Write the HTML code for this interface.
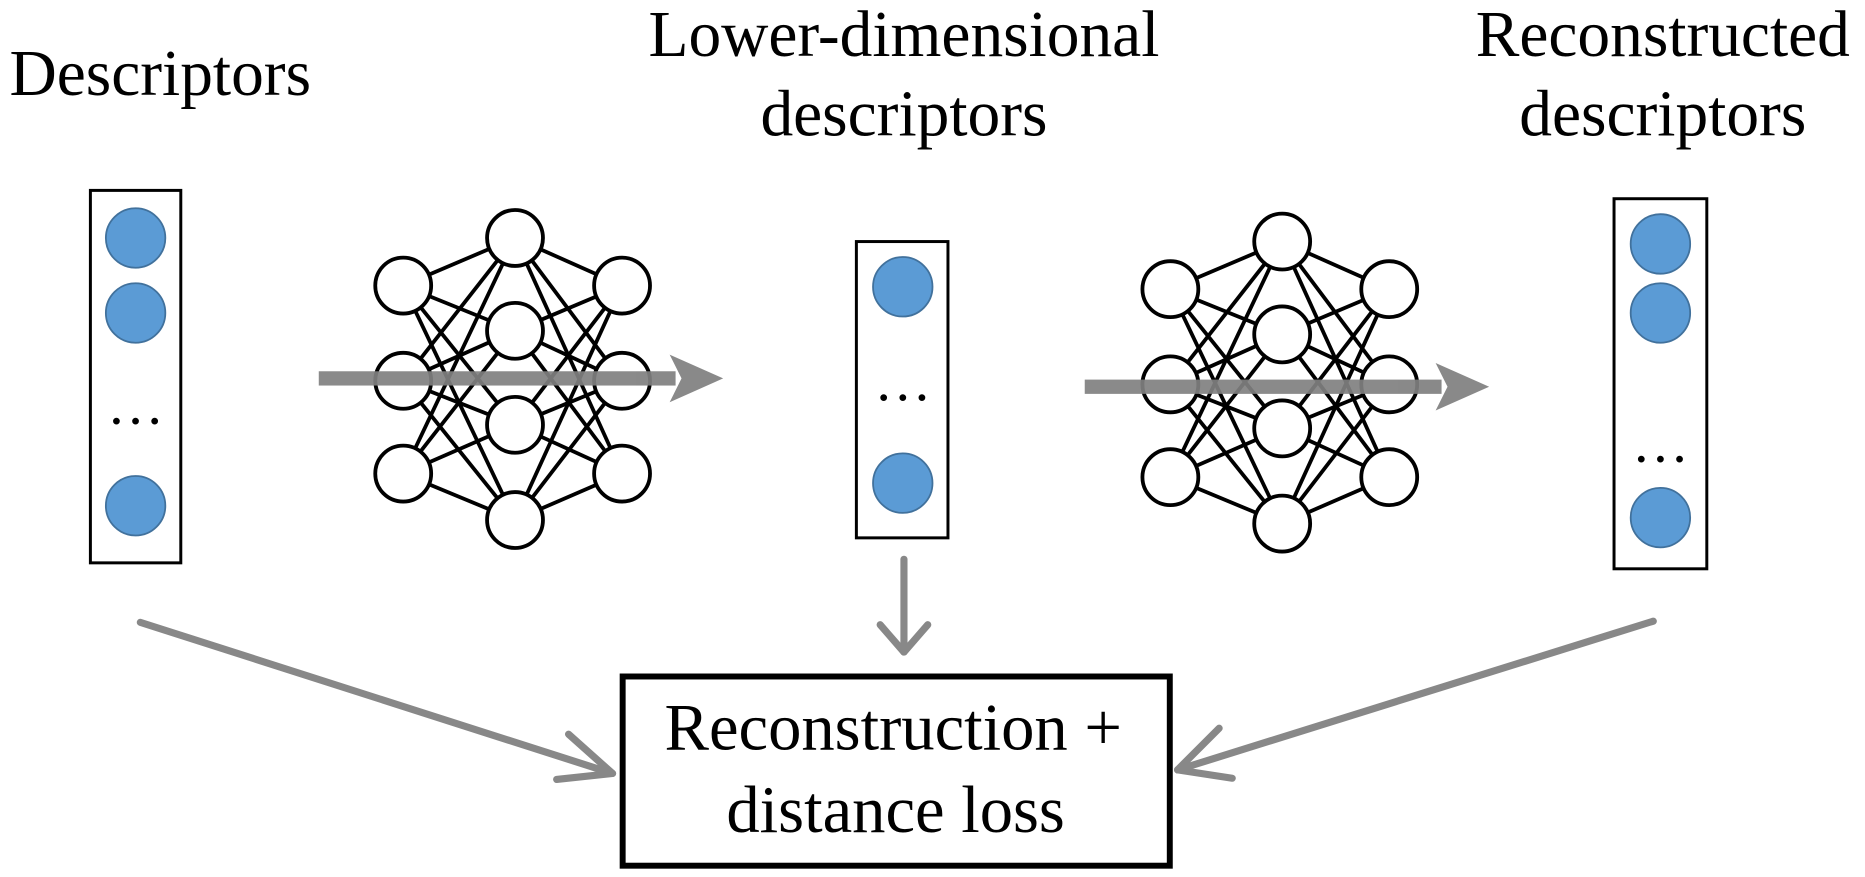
<!DOCTYPE html>
<html><head><meta charset="utf-8"><style>html,body{margin:0;padding:0;background:#fff}svg{display:block}</style></head><body>
<svg width="1865" height="877" viewBox="0 0 1568 737" preserveAspectRatio="none" xmlns="http://www.w3.org/2000/svg" font-family="Liberation Serif, serif">
<g font-size="55" fill="#000">
<text x="8" y="80">Descriptors</text>
<text x="760" y="47" text-anchor="middle">Lower-dimensional</text>
<text x="760" y="114" text-anchor="middle">descriptors</text>
<text x="1398" y="47" text-anchor="middle">Reconstructed</text>
<text x="1398" y="114" text-anchor="middle">descriptors</text>
</g>
<g fill="none" stroke="#000" stroke-width="2.5">
<rect x="76" y="160" width="76" height="313"/>
<rect x="720" y="203" width="77" height="249"/>
<rect x="1357" y="167" width="78" height="311"/>
</g>
<g fill="#5b9bd5" stroke="#41719c" stroke-width="1.5">
<circle cx="114" cy="200" r="25"/><circle cx="114" cy="263" r="25"/><circle cx="114" cy="425" r="25"/>
<circle cx="759" cy="241" r="25"/><circle cx="759" cy="406" r="25"/>
<circle cx="1396" cy="205" r="25"/><circle cx="1396" cy="263" r="25"/><circle cx="1396" cy="435" r="25"/>
</g>
<g font-size="48" text-anchor="middle"><text x="114" y="356">…</text><text x="759" y="336">…</text><text x="1396" y="388">…</text></g>
<g id="n1" stroke="#000" stroke-width="3.2" fill="#fff">
<g>
<line x1="339" y1="240" x2="433" y2="200"/><line x1="339" y1="240" x2="433" y2="278"/><line x1="339" y1="240" x2="433" y2="357"/><line x1="339" y1="240" x2="433" y2="437"/>
<line x1="339" y1="320" x2="433" y2="200"/><line x1="339" y1="320" x2="433" y2="278"/><line x1="339" y1="320" x2="433" y2="357"/><line x1="339" y1="320" x2="433" y2="437"/>
<line x1="339" y1="398" x2="433" y2="200"/><line x1="339" y1="398" x2="433" y2="278"/><line x1="339" y1="398" x2="433" y2="357"/><line x1="339" y1="398" x2="433" y2="437"/>
<line x1="523" y1="240" x2="433" y2="200"/><line x1="523" y1="240" x2="433" y2="278"/><line x1="523" y1="240" x2="433" y2="357"/><line x1="523" y1="240" x2="433" y2="437"/>
<line x1="523" y1="320" x2="433" y2="200"/><line x1="523" y1="320" x2="433" y2="278"/><line x1="523" y1="320" x2="433" y2="357"/><line x1="523" y1="320" x2="433" y2="437"/>
<line x1="523" y1="398" x2="433" y2="200"/><line x1="523" y1="398" x2="433" y2="278"/><line x1="523" y1="398" x2="433" y2="357"/><line x1="523" y1="398" x2="433" y2="437"/>
</g>
<circle cx="339" cy="240" r="23.5"/><circle cx="339" cy="320" r="23.5"/><circle cx="339" cy="398" r="23.5"/>
<circle cx="433" cy="200" r="23.5"/><circle cx="433" cy="278" r="23.5"/><circle cx="433" cy="357" r="23.5"/><circle cx="433" cy="437" r="23.5"/>
<circle cx="523" cy="240" r="23.5"/><circle cx="523" cy="320" r="23.5"/><circle cx="523" cy="398" r="23.5"/>
</g>
<use href="#n1" transform="translate(645,3)"/>
<g fill="#808080" opacity="0.92">
<rect x="268" y="312" width="300" height="12"/><polygon points="563,298 608,318 563,338 573,318"/>
<rect x="912" y="319" width="300" height="12"/><polygon points="1207,305 1252,325 1207,345 1217,325"/>
</g>
<rect x="523.5" y="568.5" width="460" height="159" fill="#fff" stroke="#000" stroke-width="5"/>
<g font-size="56" text-anchor="middle"><text x="751" y="630">Reconstruction +</text><text x="753" y="699">distance loss</text></g>
<g stroke="#888" stroke-width="6" fill="none" stroke-linecap="round" stroke-linejoin="round">
<line x1="118" y1="523" x2="515" y2="650"/><polyline points="478,617 515,650 468,655"/>
<line x1="760" y1="470" x2="760" y2="548"/><polyline points="740,525 760,548 780,525"/>
<line x1="1390" y1="522" x2="990" y2="647"/><polyline points="1025,612 990,647 1036,654"/>
</g>
</svg>
</body></html>
